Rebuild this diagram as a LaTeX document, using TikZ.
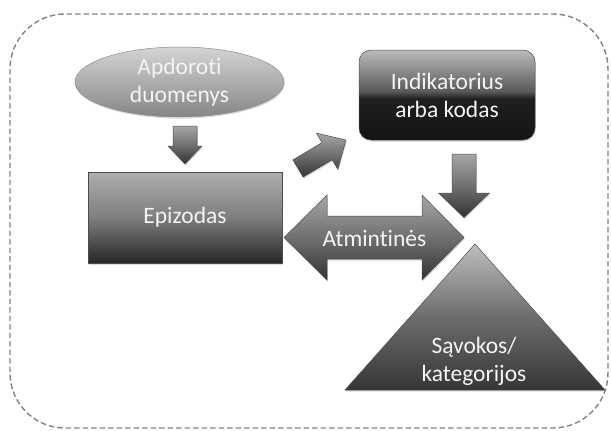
\documentclass[tikz,border=0pt]{standalone}
\usepackage{fontspec}
\setmainfont{Carlito}[Ligatures=NoCommon]
\usetikzlibrary{shapes.geometric,shadows}

% grey palette
\definecolor{frameGrey}{HTML}{828282}
\definecolor{ellTop}{HTML}{D4D4D4}
\definecolor{ellMid}{HTML}{ADADAD}
\definecolor{ellBot}{HTML}{868686}
\definecolor{boxTop}{HTML}{AEAEAE}
\definecolor{boxMid}{HTML}{7E7E7E}
\definecolor{boxBot}{HTML}{262626}
\definecolor{arrTop}{HTML}{A6A6A6}
\definecolor{arrMid}{HTML}{707070}
\definecolor{arrBot}{HTML}{323232}
\definecolor{triTop}{HTML}{BEBEBE}
\definecolor{triMid}{HTML}{6C6C6C}
\definecolor{triBot}{HTML}{363636}
\definecolor{labelWhite}{HTML}{F4F4F4}

% glossy fill: light grey upper half, near black lower half
\pgfdeclareverticalshading{glossy}{100bp}{%
  color(0bp)=(black!92);
  color(25bp)=(black!92);
  color(48bp)=(black!88);
  color(52bp)=(black!65);
  color(64bp)=(black!45);
  color(75bp)=(black!27);
  color(100bp)=(black!27)}

\tikzset{
  labeltext/.style={text=labelWhite, font=\fontsize{23.5}{28}\selectfont, align=center, inner sep=0pt},
  softshadow/.style={drop shadow={opacity=0.28, shadow xshift=0.8pt, shadow yshift=-1.6pt}},
  darkedge/.style={draw=black!70, line width=0.5pt},
  blockarrow/.style={softshadow, darkedge, top color=arrTop, bottom color=arrBot, middle color=arrMid},
}

\begin{document}
\begin{tikzpicture}[x=1pt, y=-1pt]
  \useasboundingbox (0,0) rectangle (611,431);

  % dashed outer frame
  \draw[draw=frameGrey, line width=1.4pt, dash pattern=on 5.5pt off 3pt,
        rounded corners=55pt] (10,14) rectangle (608,428);

  % input ellipse
  \node[ellipse, minimum width=209pt, minimum height=70pt, inner sep=0pt,
        softshadow, draw=black!45, line width=0.5pt,
        top color=ellTop, bottom color=ellBot, middle color=ellMid] (raw) at (179.5,82) {};
  \node[labeltext] (rawtext) at (raw.center) {Apdoroti\\duomenys};

  % episode box
  \node[rectangle, minimum width=194pt, minimum height=91pt, softshadow, darkedge,
        top color=boxTop, bottom color=boxBot, middle color=boxMid,
        labeltext] (epi) at (185,217.5) {Epizodas};

  % indicator box
  \node[rectangle, rounded corners=12pt, minimum width=176pt, minimum height=90pt,
        softshadow, darkedge, shading=glossy, labeltext] (ind) at (447,95) {Indikatorius\\arba kodas};

  % concepts triangle
  \path[softshadow, darkedge, top color=triTop, bottom color=triBot, middle color=triMid]
    (475,244) -- (605,390) -- (345,390) -- cycle;
  \node[labeltext] (cat) at (474,361) {Sąvokos/\\kategorijos};

  % ellipse -> episode
  \path[blockarrow] (173,126) -- (197,126) -- (197,146) -- (202,146) -- (185,164)
    -- (168,146) -- (173,146) -- cycle;

  % episode -> indicator
  \path[blockarrow] (292.9,159.9) -- (322.0,142.6) -- (316.4,133.1) -- (346,140)
    -- (337.8,169.3) -- (332.2,159.8) -- (303.1,177.1) -- cycle;

  % indicator -> concepts
  \path[blockarrow] (452,154) -- (476,154) -- (476,193) -- (489.5,193) -- (464,217.5)
    -- (438.5,193) -- (452,193) -- cycle;

  % episode <-> concepts
  \path[blockarrow] (284,237.5) -- (327,195) -- (327,216) -- (422,216) -- (422,195)
    -- (464,237.5) -- (422,280) -- (422,259) -- (327,259) -- (327,280) -- cycle;
  \node[labeltext] (mem) at (374.5,238) {Atmintinės};
\end{tikzpicture}
\end{document}
